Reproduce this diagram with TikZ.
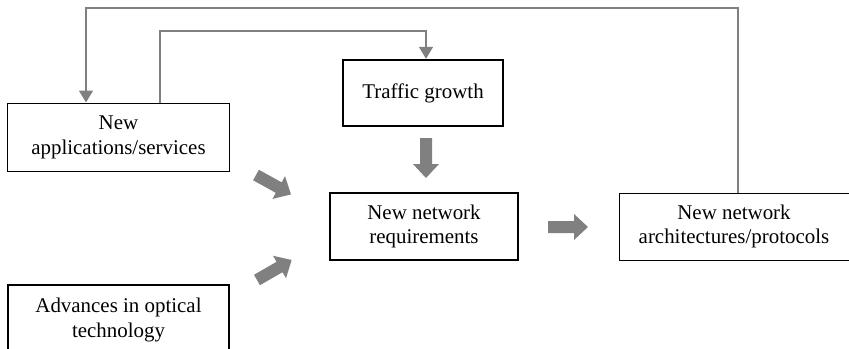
\documentclass[tikz,border=0pt]{standalone}
\usepackage{fontspec}
\setmainfont{Liberation Serif}
\usetikzlibrary{arrows.meta}
\definecolor{agray}{HTML}{808080}
\tikzset{
  thinbox/.style={draw=black, line width=1bp, fill=white, align=center, inner sep=0pt, font=\rmfamily\fontsize{21}{25}\selectfont},
  thickbox/.style={thinbox, line width=2.4bp},
  fb/.style={draw=agray, line width=1.6bp, -{Triangle[length=12bp,width=14bp]}},
  blockarrow/.pic={\fill[agray] (0,-6) -- (26,-6) -- (26,-13) -- (40,0) -- (26,13) -- (26,6) -- (0,6) -- cycle;}
}
\begin{document}
\begin{tikzpicture}[x=1bp,y=-1bp]
\useasboundingbox (0,0) rectangle (849,348);
\node[thinbox, minimum width=221bp, minimum height=68bp] (app) at (118.5,137) {New\\applications/services};
\node[thickbox, minimum width=160bp, minimum height=66bp] (traffic) at (423,93) {Traffic growth};
\node[thickbox, minimum width=188bp, minimum height=67bp] (req) at (424,226.5) {New network\\requirements};
\node[thinbox, minimum width=230bp, minimum height=67bp] (arch) at (734,226.5) {New network\\architectures/protocols};
\node[thickbox, minimum width=221bp, minimum height=70bp] (adv) at (118.5,320) {Advances in optical\\technology};
% feedback lines
\coordinate (o1) at (738,8);
\coordinate (o2) at (86,8);
\draw[fb] (arch.north -| o1) -- (o1) -- (o2) -- (app.north -| o2);
\coordinate (i1) at (160,31);
\coordinate (i2) at (426,31);
\draw[fb] (app.north -| i1) -- (i1) -- (i2) -- (traffic.north -| i2);
% block arrows
\pic[rotate=-90] at (426,138) {blockarrow};
\pic at (548,227) {blockarrow};
\pic[rotate=-29] at (256,175) {blockarrow};
\pic[rotate=30] at (257,280) {blockarrow};
\end{tikzpicture}
\end{document}
